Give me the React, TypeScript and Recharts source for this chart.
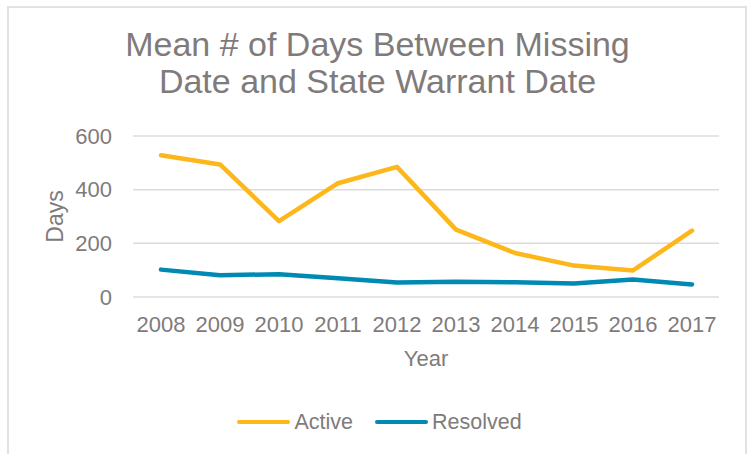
import React from "react";
import {
  LineChart,
  Line,
  XAxis,
  YAxis,
  CartesianGrid,
  Legend,
} from "recharts";

const years = ["2008", "2009", "2010", "2011", "2012", "2013", "2014", "2015", "2016", "2017"];
const active = [528, 494, 283, 424, 485, 251, 164, 117, 99, 247];
const resolved = [102, 81, 85, 70, 54, 57, 55, 50, 65, 47];
const yTicks = [0, 200, 400, 600];

const chartData = years.map((year, i) => ({
  year,
  active: active[i],
  resolved: resolved[i],
}));

const TEXT = "#7F7B7B";
const ACTIVE = "#FDB71A";
const RESOLVED = "#0089B3";
const FONT = "'Liberation Sans', Arial, sans-serif";

const legendItems = [
  { label: "Active", color: ACTIVE },
  { label: "Resolved", color: RESOLVED },
];

function ChartLegend() {
  return (
    <div
      style={{
        width: 747,
        height: 30,
        display: "flex",
        justifyContent: "center",
        alignItems: "center",
        paddingLeft: 12,
        boxSizing: "border-box",
        fontFamily: FONT,
        fontSize: 21.5,
        color: TEXT,
      }}
    >
      {legendItems.map((item, i) => (
        <div
          key={item.label}
          style={{ display: "flex", alignItems: "center", marginLeft: i ? 22 : 0 }}
        >
          <span
            style={{
              display: "inline-block",
              width: 53,
              height: 4.5,
              borderRadius: 3,
              background: item.color,
              marginRight: 4,
            }}
          />
          <span>{item.label}</span>
        </div>
      ))}
    </div>
  );
}

export default function App() {
  return (
    <div
      style={{
        position: "absolute",
        left: 0,
        top: 0,
        width: 747,
        height: 454,
        background: "#fff",
        overflow: "hidden",
        fontFamily: FONT,
      }}
    >
      <div
        style={{
          position: "absolute",
          left: 7,
          top: 6,
          width: 736,
          height: 460,
          borderTop: "2px solid #e2e2e2",
          borderLeft: "2px solid #e2e2e2",
          borderRight: "2px solid #e2e2e2",
        }}
      />
      <div
        style={{
          position: "absolute",
          left: 0,
          top: 26,
          width: 755,
          textAlign: "center",
          fontSize: 34,
          lineHeight: "37px",
          color: TEXT,
        }}
      >
        Mean # of Days Between Missing
        <br />
        Date and State Warrant Date
      </div>
      <div style={{ position: "absolute", left: 0, top: 0 }}>
        <LineChart
          width={747}
          height={454}
          data={chartData}
          margin={{ top: 136, right: 28, bottom: 17, left: 20 }}
        >
          <CartesianGrid vertical={false} stroke="#dcdcdc" strokeWidth={1.5} />
          <XAxis
            dataKey="year"
            height={110}
            axisLine={false}
            tickLine={false}
            tickSize={0}
            tickMargin={19}
            padding={{ left: 28, right: 27 }}
            tick={{ fill: TEXT, fontSize: 22, fontFamily: FONT }}
            interval={0}
            label={({ viewBox }: any) => (
              <text
                x={viewBox.x + viewBox.width / 2}
                y={viewBox.y + 69}
                textAnchor="middle"
                fill={TEXT}
                fontSize={22}
                fontFamily={FONT}
              >
                Year
              </text>
            )}
          />
          <YAxis
            width={113}
            domain={[0, 600]}
            ticks={yTicks}
            axisLine={false}
            tickLine={false}
            tickSize={0}
            tickMargin={21}
            tick={{ fill: TEXT, fontSize: 22, fontFamily: FONT }}
            label={({ viewBox }: any) => {
              const cx = viewBox.x + 35;
              const cy = viewBox.y + viewBox.height / 2;
              return (
                <text
                  x={cx}
                  y={cy}
                  transform={`rotate(-90 ${cx} ${cy})`}
                  textAnchor="middle"
                  dominantBaseline="central"
                  fill={TEXT}
                  fontSize={23}
                  fontFamily={FONT}
                >
                  Days
                </text>
              );
            }}
          />
          <Legend
            verticalAlign="bottom"
            wrapperStyle={{ left: 0, width: 747 }}
            content={() => <ChartLegend />}
          />
          <Line
            type="linear"
            dataKey="active"
            name="Active"
            stroke={ACTIVE}
            strokeWidth={4.5}
            strokeLinejoin="round"
            strokeLinecap="round"
            dot={false}
            isAnimationActive={false}
          />
          <Line
            type="linear"
            dataKey="resolved"
            name="Resolved"
            stroke={RESOLVED}
            strokeWidth={4.5}
            strokeLinejoin="round"
            strokeLinecap="round"
            dot={false}
            isAnimationActive={false}
          />
        </LineChart>
      </div>
    </div>
  );
}
